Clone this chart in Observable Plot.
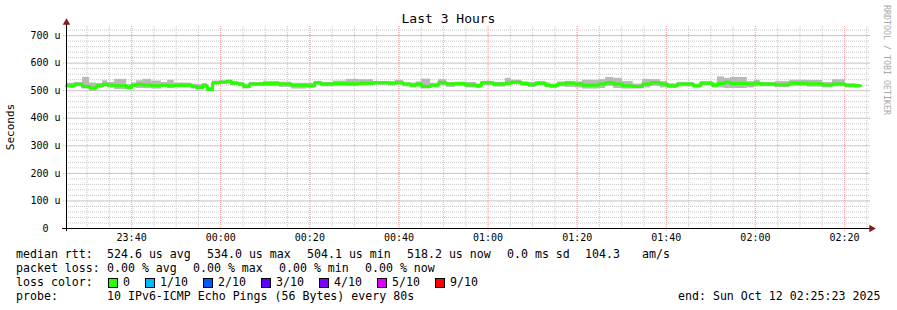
<!DOCTYPE html>
<html><head><meta charset="utf-8">
<script src="https://cdn.jsdelivr.net/npm/d3@7"></script>
<script src="https://cdn.jsdelivr.net/npm/@observablehq/plot@0.6"></script>
<style>
html,body{margin:0;padding:0;background:#fff;}
#wrap{position:relative;width:897px;height:310px;overflow:hidden;font-family:"DejaVu Sans Mono",monospace;color:#000;background:#fff;}
#chart{position:absolute;left:0;top:0;}
.t{position:absolute;white-space:pre;font-size:11.6px;line-height:14px;}
.box{position:absolute;width:10px;height:10px;border:1px solid #000;box-sizing:border-box;}
#title{position:absolute;left:0;top:12px;width:897px;text-align:center;font-size:13px;line-height:14px;}
#ylab{position:absolute;left:11px;top:127px;font-size:11px;line-height:12px;white-space:pre;transform:translate(-50%,-50%) rotate(-90deg);}
#wm{position:absolute;left:886px;top:60px;font-size:8.3px;line-height:9px;white-space:pre;color:#a8a8a8;transform:translate(-50%,-50%) rotate(90deg);}
</style></head>
<body><div id="wrap"><div id="chart"></div></div>
<script>
// ---- data ----
const chartTitle = "Last 3 Hours";
const yAxisLabel = "Seconds";
const watermark = "RRDTOOL / TOBI OETIKER";
const startTime = "2025-10-11T23:25:23Z";
const endTime = "2025-10-12T02:25:23Z";
// step start, minutes after start
const stepStartMin = [0,1.8,3.6,5.2,6.7,8.1,9.2,10.8,13.5,14.6,
  15.7,17.1,19.1,21.3,22.7,24.2,28.1,29.2,30.5,31.6,
  32.8,34.3,35.9,37.0,38.6,39.7,41.1,44.2,47.8,50.5,
  53.9,55.7,57.2,59.9,62.8,65.8,68.9,72.3,73.8,75.6,
  77.2,78.5,79.7,81.7,83.5,85.3,87.3,89.5,92.0,93.1,
  95.8,98.5,99.9,102.1,103.7,105.3,107.5,108.6,110.2,112.0,
  114.2,115.8,119.4,121.0,122.8,124.8,127.2,129.3,131.1,133.3,
  134.9,137.1,140.7,142.3,145.0,146.1,147.7,149.0,152.8,154.4,
  155.7,159.1,162.3,166.3,169.7,171.9,174.8,177.1];
const lastStepEndMin = 178.2;
// median rtt (microseconds)
const medianRtt = [518,523,515,510,518,523,520,518,512,520,
  523,521,518,521,518,520,515,512,518,504,
  529,531,534,527,524,515,524,526,524,520,
  518,529,524,526,525,527,529,527,529,524,
  520,524,515,520,529,524,526,521,518,529,
  524,527,531,526,522,527,520,518,524,527,
  524,520,524,529,524,518,515,524,529,524,
  518,524,518,527,520,526,531,526,524,527,
  524,522,527,525,521,524,520,518];
// smoke: highest / lowest ping of each step (microseconds)
const smokeHigh = [527,530,548,528,526,536,530,541,522,528,
  536,541,535,530,538,528,524,522,526,512,
  535,536,538,533,530,524,530,533,531,527,
  527,534,530,535,541,540,533,533,538,528,
  528,532,542,527,540,530,531,530,524,534,
  530,545,538,532,530,533,528,524,532,534,
  532,538,540,548,545,533,524,541,540,533,
  525,530,524,533,527,550,545,548,533,538,
  530,533,538,537,530,540,525,522];
const smokeLow = [510,514,506,498,510,514,510,504,503,512,
  508,508,506,512,508,510,506,504,510,499,
  520,524,526,519,516,506,516,516,512,506,
  510,520,514,517,516,518,520,518,520,514,
  510,514,506,510,518,512,516,510,508,518,
  513,518,522,516,512,518,511,508,514,512,
  510,506,508,516,508,506,506,510,516,510,
  508,514,510,518,510,510,508,508,510,514,
  514,511,516,513,510,514,510,510];
const yTickValues = [0,100,200,300,400,500,600,700];
const xTickLabels = ["23:40","00:00","00:20","00:40","01:00","01:20","01:40","02:00","02:20"];
const rttLabel = "median rtt:";
const rttStats = ["524.6 us avg","534.0 us max","504.1 us min","518.2 us now","0.0 ms sd","104.3","am/s"];
const lossLabel = "packet loss:";
const lossStats = ["0.00 % avg","0.00 % max","0.00 % min","0.00 % now"];
const colorLabel = "loss color:";
const lossLabels = ["0","1/10","2/10","3/10","4/10","5/10","9/10"];
const lossColors = ["#26ff00","#00b8ff","#0059ff","#5e00ff","#7e00ff","#dd00ff","#ff0000"];
const probeLabel = "probe:";
const probeText = "10 IPv6-ICMP Echo Pings (56 Bytes) every 80s";
const endText = "end: Sun Oct 12 02:25:23 2025";

// ---- build ----
const t0 = new Date(startTime), t1 = new Date(endTime);
const atMin = m => new Date(t0.getTime() + m * 60000);
const steps = medianRtt.map((v, i) => ({
  x1: atMin(stepStartMin[i]),
  x2: atMin(i + 1 < stepStartMin.length ? stepStartMin[i + 1] : lastStepEndMin),
  med: v, lo: smokeLow[i], hi: smokeHigh[i]
}));
const linePts = steps.map(d => ({t: d.x1, v: d.med}));
linePts.push({t: steps[steps.length - 1].x2, v: steps[steps.length - 1].med});
const tickDate = s => {
  const [h, m] = s.split(":").map(Number);
  return new Date(Date.UTC(2025, 9, h >= 12 ? 11 : 12, h, m));
};
const majorX = xTickLabels.map(tickDate);
const minorX = d3.utcMinute.every(5).range(t0, t1);
const yTop = 733;
const minorY = d3.range(20, yTop, 20);
const majorY = yTickValues.filter(v => v > 0);

const grid = "#c8c8c8", mgrid = "#ffa4a4", arrow = "#8b1a1a";
const chart = Plot.plot({
  width: 897, height: 245,
  marginLeft: 66, marginRight: 29, marginTop: 26, marginBottom: 17,
  x: {type: "utc", domain: [t0, t1], label: null},
  y: {domain: [0, yTop], label: null},
  style: {fontFamily: "'DejaVu Sans Mono', monospace", fontSize: "10px", color: "#000", background: "transparent", overflow: "visible"},
  marks: [
    Plot.ruleX(minorX, {stroke: grid, strokeDasharray: "1,1"}),
    Plot.ruleY(minorY, {stroke: grid, strokeDasharray: "1,1", insetRight: -2}),
    Plot.ruleX(majorX, {stroke: mgrid, strokeDasharray: "1,1", insetBottom: -3}),
    Plot.ruleY(majorY, {stroke: mgrid, strokeDasharray: "1,1", insetLeft: -3, insetRight: -2}),
    Plot.rect(steps, {x1: "x1", x2: "x2", y1: "lo", y2: "hi", fill: "#b9b9b9"}),
    Plot.line(linePts, {x: "t", y: "v", curve: "step-after", stroke: "#26ff00", strokeWidth: 3}),
    Plot.ruleX([t0], {stroke: "#000", insetTop: -4, insetBottom: -3}),
    Plot.ruleY([0], {stroke: "#000", insetLeft: -4, insetRight: -2}),
    Plot.dot([{x: t0, y: yTop}], {x: "x", y: "y", symbol: "triangle", r: 2.8, fill: arrow, stroke: null, dy: -4}),
    Plot.dot([{x: t1, y: 0}], {x: "x", y: "y", symbol: "triangle", r: 2.8, fill: arrow, stroke: null, rotate: 90, dx: 3}),
    Plot.axisY(yTickValues, {tickSize: 0, tickPadding: 6, tickFormat: v => v === 0 ? "0\u00a0\u00a0" : v + " u"}),
    Plot.axisX(majorX, {tickSize: 0, tickPadding: 5, tickFormat: (d, i) => xTickLabels[i]})
  ]
});
document.getElementById("chart").appendChild(chart);

const wrap = document.getElementById("wrap");
function add(cls, text, left, top, extra) {
  const el = document.createElement("div");
  el.className = cls; el.textContent = text;
  if (left != null) el.style.left = left + "px";
  if (top != null) el.style.top = top + "px";
  if (extra) Object.assign(el.style, extra);
  wrap.appendChild(el);
  return el;
}
const t = add("", chartTitle); t.id = "title";
const yl = add("", yAxisLabel); yl.id = "ylab";
const wm = add("", watermark); wm.id = "wm";

const rowTop = [247, 261, 275, 289];
const col0 = 16, col1 = 107;
add("t", rttLabel, col0, rowTop[0]);
const rttX = [107, 207, 307, 407, 507, 585, 642];
rttStats.forEach((s, i) => add("t", s, rttX[i], rowTop[0]));
add("t", lossLabel, col0, rowTop[1]);
const lossX = [107, 193, 279, 365];
lossStats.forEach((s, i) => add("t", s, lossX[i], rowTop[1]));
add("t", colorLabel, col0, rowTop[2]);
const boxX = [108, 145, 203, 261, 319, 377, 435];
lossLabels.forEach((s, i) => {
  add("box", "", boxX[i], rowTop[2] + 3, {background: lossColors[i]});
  add("t", s, boxX[i] + 15, rowTop[2]);
});
add("t", probeLabel, col0, rowTop[3]);
add("t", probeText, col1, rowTop[3]);
add("t", endText, 678, rowTop[3]);
</script></body></html>
